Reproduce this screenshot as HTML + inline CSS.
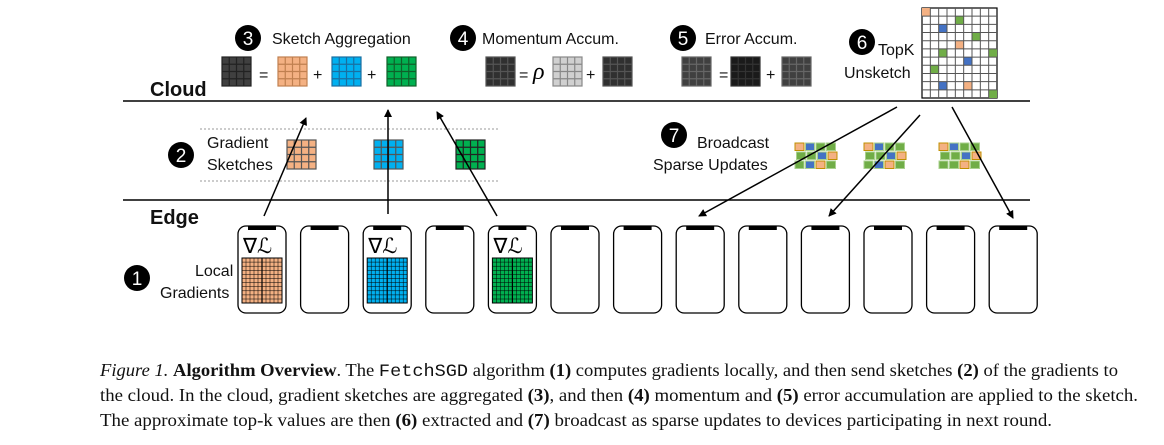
<!DOCTYPE html>
<html><head><meta charset="utf-8"><style>
html,body{margin:0;padding:0;background:#fff;}
svg{display:block;}
.s{font-family:"Liberation Sans",sans-serif;font-size:16px;fill:#111;}
.b{font-family:"Liberation Sans",sans-serif;font-weight:bold;font-size:20px;fill:#111;}
.n{font-family:"Liberation Sans",sans-serif;font-size:19px;fill:#fff;}
.c{font-family:"Liberation Serif",serif;font-size:17.5px;fill:#111;}
.m{font-family:"Liberation Mono",monospace;}
</style></head><body>
<svg id="sv" width="1164" height="445" viewBox="0 0 1164 445" xmlns="http://www.w3.org/2000/svg">
<defs><marker id="ar" markerWidth="8" markerHeight="8" refX="7" refY="4" orient="auto" markerUnits="userSpaceOnUse"><path d="M0,0 L8,4 L0,8 z" fill="#000"/></marker></defs>
<line x1="123" y1="101" x2="1030" y2="101" stroke="#000" stroke-width="1.5"/>
<line x1="123" y1="200" x2="1030" y2="200" stroke="#000" stroke-width="1.5"/>
<line x1="200" y1="129" x2="500" y2="129" stroke="#999" stroke-dasharray="2,2"/>
<line x1="200" y1="181" x2="500" y2="181" stroke="#999" stroke-dasharray="2,2"/>
<text class="b" x="150" y="96">Cloud</text>
<text class="b" x="150" y="224">Edge</text>
<g id="g"></g>
<g id="circ"></g>
<text class="s" x="272" y="44">Sketch Aggregation</text>
<text class="s" x="482" y="44">Momentum Accum.</text>
<text class="s" x="705" y="44">Error Accum.</text>
<text class="s" x="878" y="55">TopK</text>
<text class="s" x="844" y="78">Unsketch</text>
<text class="s" x="207" y="148">Gradient</text>
<text class="s" x="207" y="170">Sketches</text>
<text class="s" x="697" y="148">Broadcast</text>
<text class="s" x="653" y="170">Sparse Updates</text>
<text class="s" x="195" y="276">Local</text>
<text class="s" x="160" y="298">Gradients</text>
<text class="s" x="259" y="80" font-size="20">=</text>
<text class="s" x="313" y="80" font-size="20">+</text>
<text class="s" x="367" y="80" font-size="20">+</text>
<text class="s" x="519" y="80" font-size="20">=</text>
<text x="533" y="79" font-family="Liberation Serif,serif" font-style="italic" font-size="24">ρ</text>
<text class="s" x="586" y="80" font-size="20">+</text>
<text class="s" x="719" y="80" font-size="20">=</text>
<text class="s" x="766" y="80" font-size="20">+</text>
<g stroke="#000" stroke-width="1.5" fill="none">
<line x1="264" y1="216" x2="306" y2="118" marker-end="url(#ar)"/>
<line x1="388" y1="214" x2="388" y2="110" marker-end="url(#ar)"/>
<line x1="497" y1="216" x2="437" y2="112" marker-end="url(#ar)"/>
<line x1="897" y1="107" x2="699" y2="216" marker-end="url(#ar)"/>
<line x1="920" y1="115" x2="829" y2="216" marker-end="url(#ar)"/>
<line x1="952" y1="107" x2="1013" y2="218" marker-end="url(#ar)"/>
</g>
<text class="c" x="100" y="376" textLength="1018" lengthAdjust="spacingAndGlyphs"><tspan font-style="italic">Figure 1.</tspan> <tspan font-weight="bold">Algorithm Overview</tspan>. The <tspan class="m">FetchSGD</tspan> algorithm <tspan font-weight="bold">(1)</tspan> computes gradients locally, and then send sketches <tspan font-weight="bold">(2)</tspan> of the gradients to</text>
<text class="c" x="100" y="401" textLength="1038" lengthAdjust="spacingAndGlyphs">the cloud. In the cloud, gradient sketches are aggregated <tspan font-weight="bold">(3)</tspan>, and then <tspan font-weight="bold">(4)</tspan> momentum and <tspan font-weight="bold">(5)</tspan> error accumulation are applied to the sketch.</text>
<text class="c" x="100" y="426" textLength="952" lengthAdjust="spacingAndGlyphs">The approximate top-k values are then <tspan font-weight="bold">(6)</tspan> extracted and <tspan font-weight="bold">(7)</tspan> broadcast as sparse updates to devices participating in next round.</text>
</svg>
<script>
var NS="http://www.w3.org/2000/svg",g=document.getElementById("g");
function el(t,a,p){var e=document.createElementNS(NS,t);for(var k in a)e.setAttribute(k,a[k]);(p||g).appendChild(e);return e;}
function grid(x,y,w,n,fill,line){var c=w/n;el("rect",{x:x,y:y,width:w,height:w,fill:fill,stroke:line,"stroke-width":1.2});
for(var i=1;i<n;i++){el("line",{x1:x+i*c,y1:y,x2:x+i*c,y2:y+w,stroke:line,"stroke-width":1.2});el("line",{x1:x,y1:y+i*c,x2:x+w,y2:y+i*c,stroke:line,"stroke-width":1.2});}}
var O="#f4b183",B="#00b0f0",G="#00b050";
grid(222,57,29,4,"#404040","#222");grid(278,57,29,4,O,"#c08050");grid(332,57,29,4,B,"#1a6fa0");grid(387,57,29,4,G,"#10602a");
grid(486,57,29,4,"#303030","#555");grid(553,57,29,4,"#d0d0d0","#888");grid(603,57,29,4,"#303030","#555");
grid(682,57,29,4,"#404040","#666");grid(731,57,29,4,"#1a1a1a","#333");grid(782,57,29,4,"#404040","#666");
grid(287,140,29,4,O,"#555");grid(374,140,29,4,B,"#555");grid(456,140,29,4,G,"#222");
var tx=922,ty=8,cw=75/9,ch=90/11;
el("rect",{x:tx,y:ty,width:75,height:90,fill:"#fff",stroke:"#000","stroke-width":1.2});
var cells=[[0,0,O],[4,1,"#70ad47"],[2,2,"#4472c4"],[6,3,"#70ad47"],[4,4,O],[2,5,"#70ad47"],[8,5,"#70ad47"],[5,6,"#4472c4"],[1,7,"#70ad47"],[2,9,"#4472c4"],[5,9,O],[8,10,"#70ad47"]];
cells.forEach(function(c){el("rect",{x:tx+c[0]*cw,y:ty+c[1]*ch,width:cw,height:ch,fill:c[2]});});
for(var i=1;i<9;i++)el("line",{x1:tx+i*cw,y1:ty,x2:tx+i*cw,y2:ty+90,stroke:"#555","stroke-width":1});
for(var i=1;i<11;i++)el("line",{x1:tx,y1:ty+i*ch,x2:tx+75,y2:ty+i*ch,stroke:"#555","stroke-width":1});
var C={O:O,B:"#4472c4",G:"#70ad47"};
var pats=[["OBGG","GGBO","GBOG"],["OBGG","GGBO","GBOG"],["OBGG","GGBO","GGOG"]];
[795,864,939].forEach(function(x0,k){for(var r=0;r<3;r++)for(var c=0;c<4;c++){var ch2=pats[k][r][c];
el("rect",{x:x0+c*10.5+(r==1?1.5:0),y:143+r*9,width:9,height:7.5,fill:C[ch2],stroke:ch2=="O"?"#c09000":"#a9d18e","stroke-width":1});}});
for(var p=0;p<13;p++){var x=238+p*62.6;
el("rect",{x:x,y:226,width:48,height:87,rx:8,fill:"#fff",stroke:"#000","stroke-width":1.3});
el("rect",{x:x+10,y:226,width:28,height:4,fill:"#000"});}
function fine(x,y,col){el("rect",{x:x,y:y,width:40,height:45,fill:col,stroke:"#000","stroke-width":1});
for(var i=1;i<10;i++)el("line",{x1:x+i*4,y1:y,x2:x+i*4,y2:y+45,stroke:"#000","stroke-width":i==5?1.2:0.5});
for(var i=1;i<11;i++)el("line",{x1:x,y1:y+i*4.1,x2:x+40,y2:y+i*4.1,stroke:"#000","stroke-width":0.5});}
[[0,O],[2,B],[4,G]].forEach(function(a){var x=238+a[0]*62.6;fine(x+4,258,a[1]);
var t=el("text",{x:x+5,y:253,"font-family":"Liberation Serif,serif","font-size":"21"});t.textContent="\u2207\u2112";});
var cg=document.getElementById("circ");
[[137,278,"1"],[181,155,"2"],[248,38,"3"],[463,38,"4"],[683,38,"5"],[862,42,"6"],[674,135,"7"]].forEach(function(c){
el("circle",{cx:c[0],cy:c[1],r:13,fill:"#000"},cg);var t=el("text",{x:c[0],y:c[1]+7,"text-anchor":"middle","class":"n"},cg);t.textContent=c[2];});
</script>
</body></html>
